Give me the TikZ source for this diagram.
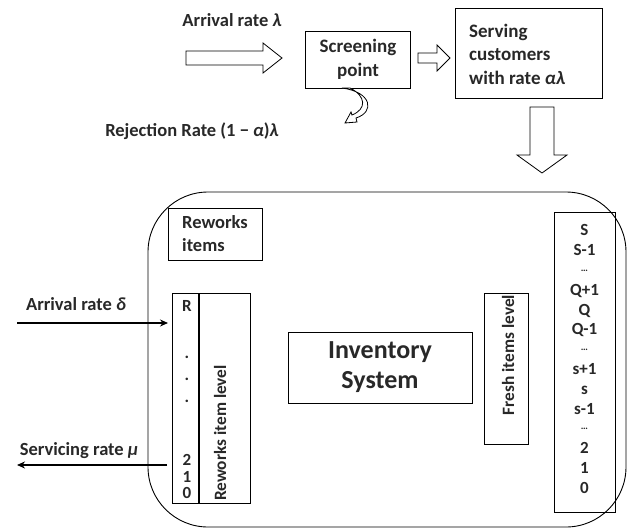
\documentclass[tikz,border=0pt]{standalone}
\usepackage{fontspec}
\setmainfont{Carlito}
\usetikzlibrary{arrows.meta}
\definecolor{txt}{RGB}{40,40,40}
\begin{document}
\begin{tikzpicture}[x=1pt,y=-1pt,
  every node/.style={text=txt},
  lbl/.style={font=\fontsize{18.5}{22}\selectfont\bfseries, inner sep=0pt},
  boxtxt/.style={font=\fontsize{19}{23.5}\selectfont\bfseries},
  plainbox/.style={draw=black, line width=0.9pt, inner sep=0pt},
  num/.style={font=\fontsize{17}{19.8}\selectfont\bfseries, inner sep=0pt},
  hollow/.style={draw, line width=0.8pt, fill=white, line join=miter},
  thinarrow/.style={line width=1.5pt, -{Stealth[length=8pt,width=7pt]}}]
\useasboundingbox (0,0) rectangle (627,528);

% top row
\node[lbl] (arrlam) at (232,20) {Arrival rate \textit{λ}};
\node[plainbox, minimum width=105pt, minimum height=57pt, align=center, boxtxt] (screen) at (358,59.5) {Screening\\point};
\node[plainbox, minimum width=147pt, minimum height=90pt] (serve) at (528.5,53) {};
\node[boxtxt, align=left, anchor=west, inner sep=0pt] (servetxt) at (469,54) {Serving\\customers\\with rate \textit{αλ}};
\node[lbl] (rej) at (192,131) {Rejection Rate (1 − \textit{α})\textit{λ}};

% hollow arrow 1
\coordinate (h1) at (282,58);
\draw[hollow] (186,51) -- (263,51) -- (263,43) -- (h1) -- (263,73) -- (263,65) -- (186,65) -- cycle;
% hollow arrow 2
\coordinate (h2) at (450,58);
\draw[hollow] (418,53) -- (437,53) -- (437,45) -- (h2) -- (437,71) -- (437,63) -- (418,63) -- cycle;
% big down arrow
\coordinate (h3) at (542,173);
\draw[hollow] (530,107) -- (554,107) -- (554,155) -- (567,155) -- (h3) -- (517,155) -- (530,155) -- cycle;
% curved hollow arrow (rejection)
\draw[hollow] (342,88) .. controls (372,92) and (375,112) .. (356,118)
  -- (357,122) -- (345,123) -- (351,112) -- (352,115)
  .. controls (367,109) and (366,96) .. (350,88) -- cycle;

% main rounded box
\draw[line width=0.9pt, rounded corners=60pt] (148,192) rectangle (626,527);
\node[plainbox, minimum width=94pt, minimum height=52pt] (rwbox) at (215,234) {};
\node[boxtxt, align=left, anchor=west, inner sep=0pt, font=\fontsize{18.5}{23}\selectfont\bfseries] (rwtxt) at (182,234) {Reworks\\items};

% rework column
\node[plainbox, minimum width=78pt, minimum height=210pt] (rwcol) at (211,398) {};
\coordinate (divtop) at (199,293);
\coordinate (divbot) at (199,503);
\draw[line width=2pt] (divtop) -- (divbot);
\node[num] (rR) at (187,306) {R};
\node[num] (rd1) at (187,357) {.};
\node[num] (rd2) at (187,379) {.};
\node[num] (rd3) at (187,401) {.};
\node[num] (r2) at (187,460) {2};
\node[num] (r1) at (187,477) {1};
\node[num] (r0) at (187,493) {0};
\node[boxtxt, rotate=90, inner sep=0pt, font=\fontsize{17.3}{20}\selectfont\bfseries] (rwlvl) at (220,433) {Reworks item level};

% side arrows
\node[lbl] (arrdel) at (76,304) {Arrival rate \textit{δ}};
\coordinate (dstart) at (17,323);
\coordinate (dend) at (168,323);
\draw[thinarrow] (dstart) -- (dend);
\node[lbl] (servmu) at (79,451) {Servicing rate \textit{μ}};
\coordinate (mstart) at (167,465);
\coordinate (mend) at (17,465);
\draw[thinarrow] (mstart) -- (mend);

% inventory
\node[plainbox, minimum width=184pt, minimum height=71pt, align=center, font=\fontsize{26}{30}\selectfont\bfseries] (inv) at (380,367.5) {Inventory\\System};
\node[plainbox, minimum width=44pt, minimum height=151pt] (fresh) at (506,368.5) {};
\node[boxtxt, rotate=90, inner sep=0pt, font=\fontsize{17.3}{20}\selectfont\bfseries] (freshtxt) at (508,355) {Fresh items level};

% right column
\node[plainbox, minimum width=61pt, minimum height=300pt] (fcol) at (584.5,362) {};
\node[num, align=center] (fnums) at (584.5,359) {S\\S-1\\{\fontsize{10}{10}\selectfont\raisebox{4pt}{…}}\\Q+1\\Q\\Q-1\\{\fontsize{10}{10}\selectfont\raisebox{4pt}{…}}\\s+1\\s\\s-1\\{\fontsize{10}{10}\selectfont\raisebox{4pt}{…}}\\2\\1\\0};
\end{tikzpicture}
\end{document}
